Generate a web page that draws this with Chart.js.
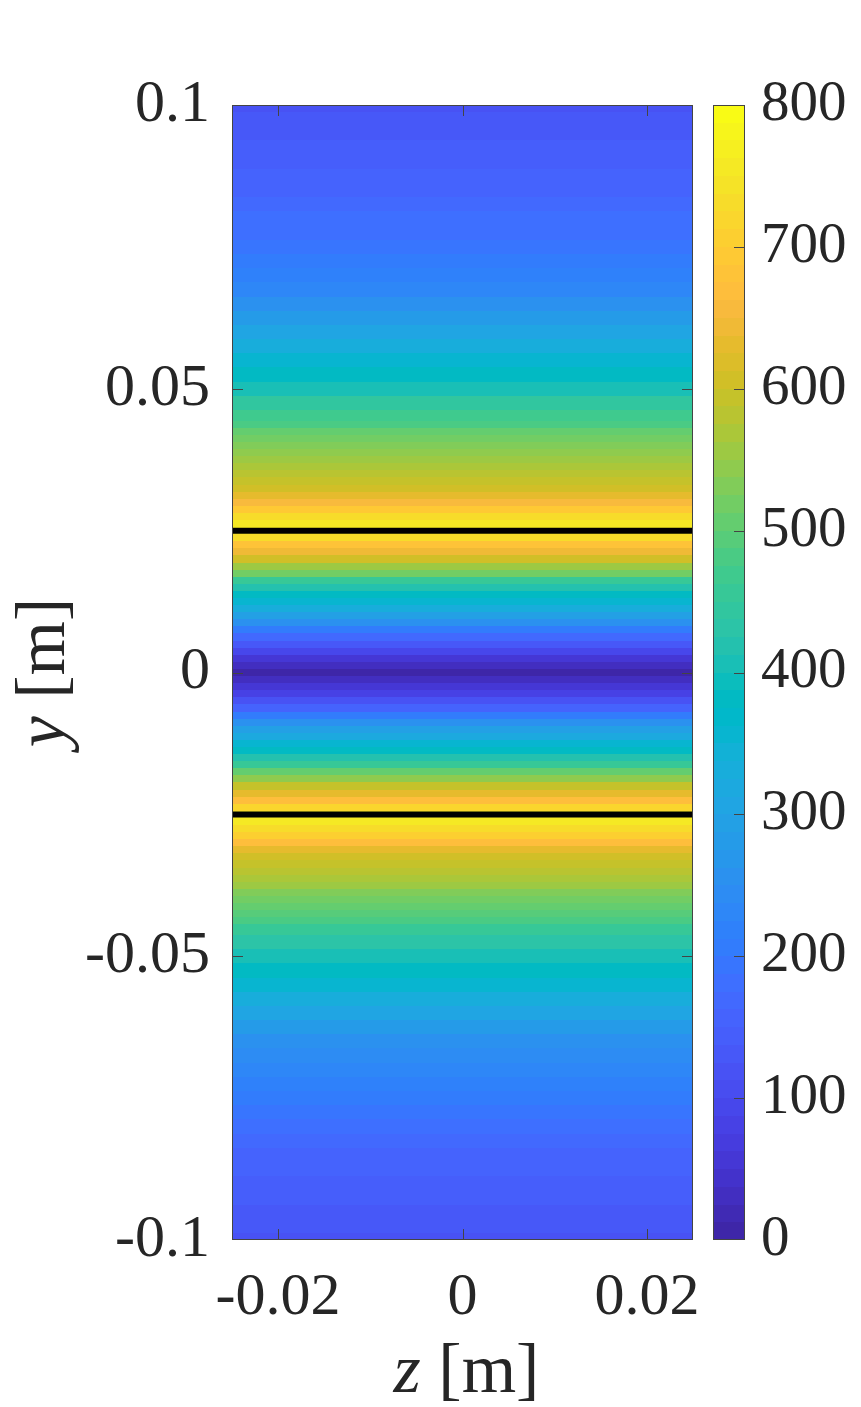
<!DOCTYPE html>
<html>
<head>
<meta charset="utf-8">
<script src="https://cdn.jsdelivr.net/npm/chart.js@4.4.1/dist/chart.umd.min.js"></script>
<style>
  body { margin: 0; background: #fff; }
  #wrap { position: relative; width: 861px; height: 1407px; }
  canvas { position: absolute; left: 0; top: 0; }
</style>
</head>
<body>
<div id="wrap">
  <canvas id="field" width="861" height="1407"></canvas>
  <canvas id="cbar" width="861" height="1407"></canvas>
</div>
<script>
// field is uniform along z, so one value per y row (finer rows near the walls)
const zRange = [-0.025, 0.025];
const yGrid = [
  0.1, 0.0975, 0.095, 0.0925, 0.09, 0.0875, 0.085, 0.0825, 0.08, 0.0775,
  0.075, 0.0725, 0.07, 0.0675, 0.065, 0.0625, 0.06, 0.0575, 0.055, 0.0525,
  0.05, 0.0475,
  0.045, 0.04375, 0.0425, 0.04125, 0.04, 0.03875, 0.0375, 0.03625, 0.035, 0.03375,
  0.0325, 0.03125, 0.03, 0.02875, 0.0275, 0.02625, 0.025, 0.02375, 0.0225, 0.02125,
  0.02, 0.01875, 0.0175, 0.01625, 0.015, 0.01375, 0.0125, 0.01125, 0.01, 0.00875,
  0.0075, 0.00625, 0.005, 0.00375, 0.0025, 0.00125,
  0,
  -0.00125, -0.0025, -0.00375, -0.005, -0.00625, -0.0075, -0.00875, -0.01, -0.01125, -0.0125,
  -0.01375, -0.015, -0.01625, -0.0175, -0.01875, -0.02, -0.02125, -0.0225, -0.02375, -0.025,
  -0.02625, -0.0275, -0.02875, -0.03, -0.03125, -0.0325, -0.03375, -0.035, -0.03625, -0.0375,
  -0.03875, -0.04, -0.04125, -0.0425, -0.04375, -0.045,
  -0.0475, -0.05, -0.0525, -0.055, -0.0575, -0.06, -0.0625, -0.065, -0.0675, -0.07,
  -0.0725, -0.075, -0.0775, -0.08, -0.0825, -0.085, -0.0875, -0.09, -0.0925, -0.095,
  -0.0975, -0.1
];
const intensity = [
  120, 125, 130, 138, 145, 152, 160, 168, 177, 187,
  197, 208, 220, 235, 255, 275, 300, 325, 355, 385,
  410, 440,
  470, 485, 500, 515, 530, 545, 560, 573, 585, 597,
  610, 632, 660, 695, 730, 752, 765, 735, 680, 640,
  600, 560, 515, 462, 415, 385, 355, 327, 295, 255,
  210, 168, 125, 88, 55, 28,
  10,
  25, 50, 85, 120, 162, 205, 250, 290, 322, 350,
  380, 415, 460, 505, 548, 590, 628, 665, 720, 760,
  752, 735, 700, 665, 635, 610, 595, 580, 565, 550,
  535, 520, 505, 490, 475, 460,
  432, 405, 378, 352, 328, 305, 282, 262, 245, 230,
  215, 201, 190, 180, 170, 160, 152, 145, 138, 130,
  125, 120
];
const wallY = [0.025, -0.025];
const xTicks = [-0.02, 0, 0.02];
const yTicks = [-0.1, -0.05, 0, 0.05, 0.1];
const cTicks = [0, 100, 200, 300, 400, 500, 600, 700, 800];
const cLimits = [0, 800];

const parula = [
  [0.2422,0.1504,0.6603],[0.2504,0.1650,0.7076],[0.2578,0.1818,0.7511],[0.2647,0.1978,0.7952],
  [0.2706,0.2147,0.8364],[0.2751,0.2342,0.8710],[0.2783,0.2559,0.8991],[0.2803,0.2782,0.9221],
  [0.2813,0.3006,0.9414],[0.2810,0.3228,0.9579],[0.2795,0.3447,0.9717],[0.2760,0.3667,0.9829],
  [0.2699,0.3892,0.9906],[0.2602,0.4123,0.9952],[0.2440,0.4358,0.9988],[0.2206,0.4603,0.9973],
  [0.1963,0.4847,0.9892],[0.1834,0.5074,0.9798],[0.1786,0.5289,0.9682],[0.1764,0.5499,0.9520],
  [0.1687,0.5703,0.9359],[0.1540,0.5902,0.9218],[0.1460,0.6091,0.9079],[0.1380,0.6276,0.8973],
  [0.1248,0.6459,0.8883],[0.1113,0.6635,0.8763],[0.0952,0.6798,0.8598],[0.0689,0.6948,0.8394],
  [0.0297,0.7082,0.8163],[0.0036,0.7203,0.7917],[0.0067,0.7312,0.7660],[0.0433,0.7411,0.7394],
  [0.0964,0.7500,0.7120],[0.1408,0.7584,0.6842],[0.1717,0.7670,0.6554],[0.1938,0.7758,0.6251],
  [0.2161,0.7843,0.5923],[0.2470,0.7918,0.5567],[0.2906,0.7973,0.5188],[0.3406,0.8008,0.4789],
  [0.3909,0.8029,0.4354],[0.4456,0.8024,0.3909],[0.5044,0.7993,0.3480],[0.5616,0.7942,0.3045],
  [0.6174,0.7876,0.2612],[0.6720,0.7793,0.2227],[0.7242,0.7698,0.1910],[0.7738,0.7598,0.1646],
  [0.8203,0.7498,0.1535],[0.8634,0.7406,0.1596],[0.9035,0.7330,0.1774],[0.9393,0.7288,0.2100],
  [0.9728,0.7298,0.2394],[0.9956,0.7434,0.2371],[0.9970,0.7659,0.2199],[0.9952,0.7893,0.2028],
  [0.9892,0.8136,0.1885],[0.9786,0.8386,0.1766],[0.9676,0.8639,0.1643],[0.9610,0.8890,0.1537],
  [0.9597,0.9135,0.1423],[0.9628,0.9373,0.1265],[0.9691,0.9606,0.1064],[0.9769,0.9839,0.0805]
];

function rgb(c) {
  return 'rgb(' + Math.round(c[0]*255) + ',' + Math.round(c[1]*255) + ',' + Math.round(c[2]*255) + ')';
}
function colorFor(v) {
  let i = Math.floor((v - cLimits[0]) / (cLimits[1] - cLimits[0]) * parula.length);
  i = Math.max(0, Math.min(parula.length - 1, i));
  return rgb(parula[i]);
}

const FONT = '"Liberation Serif", "Times New Roman", serif';
const INK = '#262626';

const heatPlugin = {
  id: 'heat',
  beforeDatasetsDraw(chart) {
    const ctx = chart.ctx, a = chart.chartArea, x = chart.scales.x, y = chart.scales.y;
    ctx.save();
    ctx.beginPath();
    ctx.rect(a.left, a.top, a.right - a.left, a.bottom - a.top);
    ctx.clip();
    const x0 = Math.round(x.getPixelForValue(zRange[0]));
    const x1 = Math.round(x.getPixelForValue(zRange[1]));
    const n = yGrid.length;
    for (let i = 0; i < n; i++) {
      const up = i > 0 ? (yGrid[i-1] + yGrid[i]) / 2 : yGrid[i] + (yGrid[i] - yGrid[i+1]) / 2;
      const dn = i < n - 1 ? (yGrid[i] + yGrid[i+1]) / 2 : yGrid[i] - (yGrid[i-1] - yGrid[i]) / 2;
      const p0 = Math.round(y.getPixelForValue(up));
      const p1 = Math.round(y.getPixelForValue(dn));
      ctx.fillStyle = colorFor(intensity[i]);
      ctx.fillRect(x0, p0, x1 - x0, p1 - p0);
    }
    ctx.restore();
  }
};

// matlab style box with inward ticks
const boxPlugin = {
  id: 'box',
  afterDatasetsDraw(chart, args, opts) {
    const ctx = chart.ctx, a = chart.chartArea;
    const tl = 11;
    ctx.save();
    ctx.strokeStyle = '#444';
    ctx.lineWidth = 1;
    ctx.beginPath();
    if (opts.xTicks) {
      const x = chart.scales.x;
      opts.xTicks.forEach(v => {
        const p = Math.round(x.getPixelForValue(v)) + 0.5;
        ctx.moveTo(p, a.bottom); ctx.lineTo(p, a.bottom - tl);
        ctx.moveTo(p, a.top); ctx.lineTo(p, a.top + tl);
      });
    }
    if (opts.yTicks) {
      const y = chart.scales.y;
      opts.yTicks.forEach(v => {
        const p = Math.round(y.getPixelForValue(v)) + 0.5;
        if (opts.left) { ctx.moveTo(a.left, p); ctx.lineTo(a.left + tl, p); }
        ctx.moveTo(a.right, p); ctx.lineTo(a.right - tl, p);
      });
    }
    ctx.stroke();
    ctx.strokeRect(Math.round(a.left) + 0.5, Math.round(a.top) + 0.5,
      Math.round(a.right - a.left) - 1, Math.round(a.bottom - a.top) - 1);
    ctx.restore();
  }
};

const titlePlugin = {
  id: 'axisTitles',
  afterDraw(chart) {
    const ctx = chart.ctx, a = chart.chartArea;
    const size = 70;
    function drawMixed(cx, cy, parts) {
      let w = 0;
      parts.forEach(p => { ctx.font = p[1] + size + 'px ' + FONT; w += ctx.measureText(p[0]).width; });
      let x = cx - w / 2;
      parts.forEach(p => {
        ctx.font = p[1] + size + 'px ' + FONT;
        ctx.fillText(p[0], x, cy);
        x += ctx.measureText(p[0]).width;
      });
    }
    ctx.save();
    ctx.fillStyle = INK;
    ctx.textBaseline = 'alphabetic';
    ctx.textAlign = 'left';
    drawMixed((a.left + a.right) / 2 + 4, 1392, [['z', 'italic '], [' [m]', '']]);
    ctx.translate(64, (a.top + a.bottom) / 2);
    ctx.rotate(-Math.PI / 2);
    drawMixed(0, 0, [['y', 'italic '], [' [m]', '']]);
    ctx.restore();
  }
};

new Chart('field', {
  type: 'line',
  data: {
    datasets: wallY.map(w => ({
      data: [{ x: zRange[0], y: w }, { x: zRange[1], y: w }],
      borderColor: '#000',
      borderWidth: 6,
      pointRadius: 0,
      fill: false
    }))
  },
  options: {
    responsive: false,
    animation: false,
    layout: { padding: { left: 0, top: 105, right: 168, bottom: 0 } },
    plugins: {
      legend: { display: false },
      tooltip: { enabled: false },
      box: { xTicks: xTicks, yTicks: [-0.05, 0, 0.05], left: true }
    },
    scales: {
      x: {
        type: 'linear', min: zRange[0], max: zRange[1],
        afterBuildTicks: s => { s.ticks = xTicks.map(v => ({ value: v })); },
        afterFit: s => { s.height = 167; s.paddingLeft = 0; s.paddingRight = 0; },
        grid: { display: false, drawTicks: false },
        border: { display: false },
        ticks: {
          color: INK, font: { family: FONT, size: 60 }, padding: 22,
          autoSkip: false, maxRotation: 0,
          callback: v => String(v)
        }
      },
      y: {
        type: 'linear', min: -0.1, max: 0.1,
        afterBuildTicks: s => { s.ticks = yTicks.map(v => ({ value: v })); },
        afterFit: s => { s.width = 232; s.paddingTop = 0; s.paddingBottom = 0; },
        grid: { display: false, drawTicks: false },
        border: { display: false },
        ticks: {
          color: INK, font: { family: FONT, size: 60 }, padding: 22,
          autoSkip: false,
          callback: v => String(v)
        }
      }
    }
  },
  plugins: [heatPlugin, boxPlugin, titlePlugin]
});

const cbarPlugin = {
  id: 'cbarFill',
  beforeDatasetsDraw(chart) {
    const ctx = chart.ctx, a = chart.chartArea, y = chart.scales.y;
    const step = (cLimits[1] - cLimits[0]) / parula.length;
    ctx.save();
    parula.forEach((c, i) => {
      const p0 = Math.round(y.getPixelForValue(cLimits[0] + i * step));
      const p1 = Math.round(y.getPixelForValue(cLimits[0] + (i + 1) * step));
      ctx.fillStyle = rgb(c);
      ctx.fillRect(a.left, p1, a.right - a.left, p0 - p1);
    });
    ctx.restore();
  }
};

new Chart('cbar', {
  type: 'scatter',
  data: { datasets: [{ data: [] }] },
  options: {
    responsive: false,
    animation: false,
    layout: { padding: { left: 713, top: 105, right: 0, bottom: 167 } },
    plugins: {
      legend: { display: false },
      tooltip: { enabled: false },
      box: { yTicks: cTicks.slice(1, -1), left: false }
    },
    scales: {
      x: { type: 'linear', display: false, min: 0, max: 1 },
      y: {
        type: 'linear', position: 'right', min: cLimits[0], max: cLimits[1],
        afterBuildTicks: s => { s.ticks = cTicks.map(v => ({ value: v })); },
        afterFit: s => { s.width = 116; s.paddingTop = 0; s.paddingBottom = 0; },
        grid: { display: false, drawTicks: false },
        border: { display: false },
        ticks: {
          color: INK, font: { family: FONT, size: 57 }, padding: 16,
          autoSkip: false
        }
      }
    }
  },
  plugins: [cbarPlugin, boxPlugin]
});
</script>
</body>
</html>
